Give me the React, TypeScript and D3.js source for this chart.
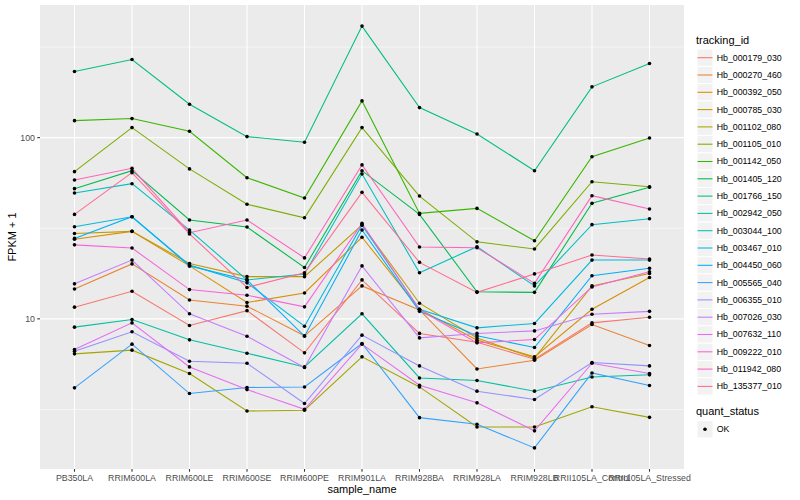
import React from "react";
import * as d3 from "d3";

const categories = [
  "PB350LA", "RRIM600LA", "RRIM600LE", "RRIM600SE", "RRIM600PE", "RRIM901LA",
  "RRIM928BA", "RRIM928LA", "RRIM928LB", "RRII105LA_Control", "RRII105LA_Stressed",
];

const trackingIds = [
  "Hb_000179_030", "Hb_000270_460", "Hb_000392_050", "Hb_000785_030", "Hb_001102_080",
  "Hb_001105_010", "Hb_001142_050", "Hb_001405_120", "Hb_001766_150", "Hb_002942_050",
  "Hb_003044_100", "Hb_003467_010", "Hb_004450_060", "Hb_005565_040", "Hb_006355_010",
  "Hb_007026_030", "Hb_007632_110", "Hb_009222_010", "Hb_011942_080", "Hb_135377_010",
];

// FPKM + 1 per sample, in category order
const hb_000179_030 = [11.6, 14.2, 9.19, 11.1, 6.49, 16.4, 8.31, 7.43, 5.99, 9.5, 10.2];
const hb_000270_460 = [14.6, 20.1, 12.7, 11.75, 8.06, 15.2, 11.2, 5.29, 5.91, 9.31, 7.13];
const hb_000392_050 = [27.5, 30.4, 19.6, 12.3, 13.9, 28.2, 11.3, 7.63, 6.17, 11.3, 16.9];
const hb_000785_030 = [29.6, 30.4, 20.2, 17.1, 17.1, 32.9, 12.2, 7.85, 6.07, 15.2, 17.8];
const hb_001102_080 = [6.41, 6.72, 4.99, 3.1, 3.13, 6.17, 4.21, 2.53, 2.53, 3.27, 2.86];
const hb_001105_010 = [64.9, 113.6, 67.2, 42.9, 36.1, 113.6, 47.6, 26.6, 24.3, 57.1, 53.6];
const hb_001142_050 = [124.1, 127.4, 108.5, 60.1, 46.4, 159.5, 38.2, 40.7, 27.0, 78.5, 99.6];
const hb_001405_120 = [52.3, 65.7, 35.1, 32.1, 19.2, 65.7, 37.7, 14.1, 14.0, 43.4, 53.2];
const hb_001766_150 = [231.6, 269.7, 152.9, 101.3, 94.3, 412.6, 146.5, 104.8, 65.7, 190.6, 256.3];
const hb_002942_050 = [9.0, 9.92, 7.66, 6.46, 5.43, 10.66, 4.72, 4.57, 3.99, 4.78, 4.91];
const hb_003044_100 = [49.5, 55.7, 30.9, 16.4, 17.7, 63.0, 17.96, 25.0, 15.2, 33.1, 35.7];
const hb_003467_010 = [32.2, 36.6, 19.8, 15.8, 9.11, 32.9, 11.3, 8.92, 9.43, 21.1, 21.1];
const hb_004450_060 = [27.8, 36.6, 19.6, 16.4, 8.02, 30.9, 11.0, 8.06, 6.95, 17.3, 19.0];
const hb_005565_040 = [4.16, 7.25, 3.87, 4.18, 4.21, 7.31, 2.85, 2.62, 1.94, 5.03, 4.29];
const hb_006355_010 = [6.63, 8.48, 5.84, 5.69, 3.41, 8.13, 5.5, 3.99, 3.59, 5.74, 5.5];
const hb_007026_030 = [15.6, 21.1, 10.66, 8.02, 5.39, 19.6, 7.85, 8.31, 8.58, 10.6, 11.0];
const hb_007632_110 = [6.78, 9.5, 5.43, 4.07, 3.17, 7.25, 4.3, 3.44, 2.41, 5.69, 4.99];
const hb_009222_010 = [25.6, 24.6, 14.5, 13.5, 11.65, 33.65, 11.2, 7.37, 7.69, 15.0, 18.2];
const hb_011942_080 = [58.4, 67.7, 29.9, 35.1, 21.7, 70.7, 24.9, 24.7, 15.7, 47.8, 40.4];
const hb_135377_010 = [37.7, 64.1, 29.4, 14.9, 17.96, 49.9, 20.5, 14.0, 17.7, 22.5, 21.4];

const seriesValues = [
  hb_000179_030, hb_000270_460, hb_000392_050, hb_000785_030, hb_001102_080,
  hb_001105_010, hb_001142_050, hb_001405_120, hb_001766_150, hb_002942_050,
  hb_003044_100, hb_003467_010, hb_004450_060, hb_005565_040, hb_006355_010,
  hb_007026_030, hb_007632_110, hb_009222_010, hb_011942_080, hb_135377_010,
];

const palette = [
  "#F8766D", "#EA8331", "#D89000", "#C09B00", "#A3A500", "#7CAE00", "#39B600",
  "#00BB4E", "#00BF7D", "#00C1A3", "#00BFC4", "#00BAE0", "#00B0F6", "#35A2FF",
  "#9590FF", "#C77CFF", "#E76BF3", "#FA62DB", "#FF62BC", "#FF6C91",
];

const yMajorTicks = [10, 100];
const yMinorTicks = [Math.pow(10, 0.5), Math.pow(10, 1.5), Math.pow(10, 2.5)];
const quantStatus = ["OK"];

const FONT = "'Liberation Sans', Arial, Helvetica, sans-serif";

export default function App() {
  const W = 800;
  const H = 500;
  const pl = 40, pr = 684, pt = 5, pb = 469;

  const x = d3.scalePoint<string>().domain(categories).range([pl, pr]).padding(0.6);
  const all = seriesValues.flat();
  const lmin = Math.log10(d3.min(all) as number);
  const lmax = Math.log10(d3.max(all) as number);
  const pad = (lmax - lmin) * 0.05;
  const y = d3.scaleLog().domain([Math.pow(10, lmin - pad), Math.pow(10, lmax + pad)]).range([pb, pt]);

  const line = d3
    .line<number>()
    .x((_, i) => x(categories[i]) as number)
    .y((d) => y(d));

  const legX = 697;
  const keyW = 16;
  const keyH = 17.3;
  const firstKeyCenter = 57.7;

  return (
    <div style={{ position: "absolute", left: 0, top: 0 }}>
      <svg width={W} height={H} style={{ display: "block", background: "#fff" }} fontFamily={FONT}>
        <rect x={pl} y={pt} width={pr - pl} height={pb - pt} fill="#EBEBEB" />
        {yMinorTicks.map((t, i) => (
          <line key={"ym" + i} x1={pl} x2={pr} y1={y(t)} y2={y(t)} stroke="#fff" strokeWidth={0.53} />
        ))}
        {yMajorTicks.map((t, i) => (
          <line key={"yM" + i} x1={pl} x2={pr} y1={y(t)} y2={y(t)} stroke="#fff" strokeWidth={1.07} />
        ))}
        {categories.map((c) => (
          <line key={"xg" + c} x1={x(c)} x2={x(c)} y1={pt} y2={pb} stroke="#fff" strokeWidth={1.07} />
        ))}

        {seriesValues.map((vals, si) => (
          <path key={"l" + si} d={line(vals) as string} fill="none" stroke={palette[si]} strokeWidth={1.07} />
        ))}
        {seriesValues.map((vals, si) =>
          vals.map((v, i) => (
            <circle key={"p" + si + "_" + i} cx={x(categories[i])} cy={y(v)} r={1.8} fill="#000" />
          ))
        )}

        {/* y axis */}
        {yMajorTicks.map((t, i) => (
          <g key={"yt" + i}>
            <line x1={pl - 2.75} x2={pl} y1={y(t)} y2={y(t)} stroke="#333333" strokeWidth={1.07} />
            <text x={pl - 5} y={y(t)} dy="0.33em" textAnchor="end" fontSize={8.8} fill="#4D4D4D">
              {t}
            </text>
          </g>
        ))}
        {/* x axis */}
        {categories.map((c) => (
          <g key={"xt" + c}>
            <line x1={x(c)} x2={x(c)} y1={pb} y2={pb + 2.75} stroke="#333333" strokeWidth={1.07} />
            <text x={x(c)} y={pb + 11.8} textAnchor="middle" fontSize={8.8} fill="#4D4D4D">
              {c}
            </text>
          </g>
        ))}
        <text x={(pl + pr) / 2} y={492.5} textAnchor="middle" fontSize={11} fill="#000">
          sample_name
        </text>
        <text
          transform={`translate(16,${(pt + pb) / 2}) rotate(-90)`}
          textAnchor="middle"
          fontSize={11}
          fill="#000"
        >
          FPKM + 1
        </text>

        {/* legend: tracking_id */}
        <text x={legX - 1} y={43.5} fontSize={11} fill="#000">
          tracking_id
        </text>
        {trackingIds.map((id, i) => {
          const cy = firstKeyCenter + i * keyH;
          return (
            <g key={"lg" + id}>
              <rect x={legX} y={cy - keyH / 2} width={keyW} height={keyH} fill="#F2F2F2" stroke="#fff" strokeWidth={1} />
              <line x1={legX + 0.5} x2={legX + keyW - 0.5} y1={cy} y2={cy} stroke={palette[i]} strokeWidth={1.07} />
              <text x={716.7} y={cy} dy="0.34em" fontSize={8.8} fill="#000">
                {id}
              </text>
            </g>
          );
        })}

        {/* legend: quant_status */}
        <text x={legX - 1} y={414.5} fontSize={11} fill="#000">
          quant_status
        </text>
        {quantStatus.map((s, i) => {
          const cy = 429.3 + i * keyH;
          return (
            <g key={"qs" + s}>
              <rect x={legX} y={cy - keyH / 2} width={keyW} height={keyH} fill="#F2F2F2" stroke="#fff" strokeWidth={1} />
              <circle cx={legX + keyW / 2} cy={cy} r={1.8} fill="#000" />
              <text x={716.7} y={cy} dy="0.34em" fontSize={8.8} fill="#000">
                {s}
              </text>
            </g>
          );
        })}
      </svg>
    </div>
  );
}
